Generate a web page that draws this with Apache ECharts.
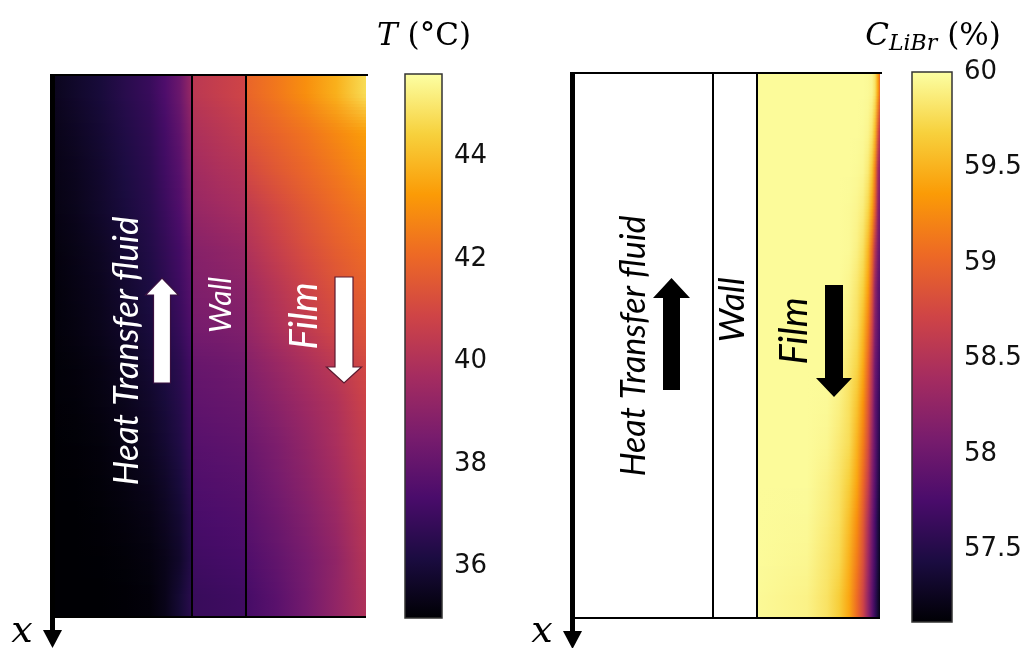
<!DOCTYPE html>
<html>
<head>
<meta charset="utf-8">
<script src="https://cdn.jsdelivr.net/npm/echarts@6/dist/echarts.min.js"></script>
<style>
  html, body { margin: 0; padding: 0; background: #ffffff; }
  #chart { width: 1026px; height: 648px; }
</style>
</head>
<body>
<div id="chart"></div>
<script>
// ---------- Temperature field (left panel) ----------
// Across-plate sample positions (mm): heat transfer fluid | wall | film
const tempCols = [0, 0.25, 0.5, 0.75, 1.0, 1.15, 1.3, 1.42, 1.42, 1.69, 1.96, 1.96, 2.26, 2.56, 2.86, 3.16];
// Region boundaries (mm)
const tempRegions = [0, 1.42, 1.96, 3.16];
// Temperature (°C), one band per row, from the top of the plate downwards
const tempRows = [
  [35.45, 35.75, 36.05, 36.5, 36.9, 37.45, 38.2, 39.4,   40.3, 40.6, 40.9,   41.9, 42.4, 42.95, 43.7, 44.7],
  [35.35, 35.6, 35.9, 36.3, 36.7, 37.2, 37.9, 39.0,      39.9, 40.2, 40.5,   41.5, 41.9, 42.3, 42.8, 43.3],
  [35.3, 35.5, 35.8, 36.2, 36.6, 37.1, 37.7, 38.7,       39.6, 39.9, 40.1,   41.0, 41.5, 41.95, 42.4, 42.9],
  [35.25, 35.45, 35.75, 36.1, 36.5, 36.95, 37.5, 38.4,   39.3, 39.55, 39.8,  40.4, 41.0, 41.55, 42.05, 42.45],
  [35.15, 35.35, 35.6, 35.95, 36.35, 36.75, 37.2, 37.9,  38.9, 39.1, 39.3,   40.0, 40.6, 41.2, 41.7, 42.1],
  [35.1, 35.3, 35.5, 35.85, 36.2, 36.6, 37.05, 37.7,     38.7, 38.85, 39.0,  39.6, 40.2, 40.8, 41.35, 41.8],
  [35.1, 35.25, 35.45, 35.75, 36.1, 36.45, 36.9, 37.5,   38.5, 38.6, 38.75,  39.3, 39.9, 40.45, 41.0, 41.45],
  [35.05, 35.15, 35.3, 35.55, 35.9, 36.2, 36.6, 37.2,    38.1, 38.2, 38.35,  38.85, 39.35, 39.85, 40.35, 41.0],
  [35.05, 35.1, 35.25, 35.45, 35.75, 36.05, 36.45, 37.0, 37.9, 38.0, 38.1,   38.55, 39.0, 39.5, 40.0, 40.8],
  [35.0, 35.05, 35.15, 35.35, 35.6, 35.9, 36.3, 36.9,    37.7, 37.8, 37.9,   38.2, 38.65, 39.2, 39.85, 40.6],
  [35.0, 35.02, 35.1, 35.25, 35.45, 35.7, 36.1, 36.7,    37.5, 37.6, 37.7,   37.95, 38.45, 39.0, 39.65, 40.45],
  [35.0, 35.0, 35.05, 35.15, 35.3, 35.55, 35.9, 36.5,    37.3, 37.4, 37.5,   37.75, 38.2, 38.75, 39.4, 40.3],
  [35.0, 35.0, 35.02, 35.08, 35.2, 35.4, 35.75, 36.4,    37.1, 37.2, 37.3,   37.5, 37.95, 38.5, 39.15, 40.15],
  [35.0, 35.0, 35.0, 35.03, 35.12, 35.4, 35.95, 36.55,   36.9, 37.0, 37.1,   37.25, 37.75, 38.4, 39.2, 40.0]
];
const tempRange = [35, 45.6];
const tempTicks = [36, 38, 40, 42, 44];
const tempTickLabels = ['36', '38', '40', '42', '44'];

// ---------- LiBr concentration field (right panel, film only) ----------
const concRegions = [0, 1.43, 1.87, 3.10];
const concCols = [1.87, 2.37, 2.57, 2.69, 2.79, 2.87, 2.93, 2.98, 3.02, 3.05, 3.08, 3.10];
// Concentration (%), one band per row, from the top of the film downwards
const concRows = [
  [59.97, 59.97, 59.97, 59.97, 59.97, 59.97, 59.97, 59.96, 59.93, 59.80, 59.40, 59.00],
  [59.97, 59.97, 59.97, 59.97, 59.97, 59.97, 59.96, 59.93, 59.82, 59.55, 58.90, 58.50],
  [59.97, 59.97, 59.97, 59.97, 59.97, 59.96, 59.94, 59.85, 59.63, 59.20, 58.45, 58.20],
  [59.97, 59.97, 59.97, 59.97, 59.96, 59.93, 59.87, 59.72, 59.42, 58.95, 58.25, 58.05],
  [59.97, 59.97, 59.97, 59.97, 59.96, 59.90, 59.79, 59.54, 59.10, 58.55, 58.10, 57.95],
  [59.97, 59.97, 59.97, 59.97, 59.93, 59.83, 59.69, 59.40, 58.90, 58.30, 57.95, 57.85],
  [59.97, 59.97, 59.97, 59.96, 59.88, 59.78, 59.55, 59.20, 58.72, 58.16, 57.90, 57.75],
  [59.97, 59.97, 59.97, 59.93, 59.83, 59.71, 59.45, 59.03, 58.53, 58.03, 57.80, 57.65],
  [59.97, 59.97, 59.96, 59.90, 59.79, 59.60, 59.31, 58.90, 58.43, 57.95, 57.70, 57.55],
  [59.97, 59.97, 59.94, 59.85, 59.76, 59.50, 59.18, 58.80, 58.27, 57.92, 57.62, 57.45],
  [59.97, 59.97, 59.90, 59.81, 59.67, 59.42, 59.04, 58.66, 58.16, 57.85, 57.55, 57.38],
  [59.97, 59.96, 59.87, 59.78, 59.57, 59.28, 58.92, 58.48, 58.05, 57.75, 57.45, 57.30],
  [59.97, 59.94, 59.83, 59.74, 59.49, 59.16, 58.83, 58.37, 57.97, 57.70, 57.42, 57.25],
  [59.96, 59.91, 59.80, 59.66, 59.43, 59.05, 58.72, 58.27, 57.90, 57.62, 57.36, 57.20]
];
const concRange = [57.12, 60];
const concTicks = [57.5, 58, 58.5, 59, 59.5, 60];
const concTickLabels = ['57.5', '58', '58.5', '59', '59.5', '60'];

// ---------- inferno colour map ----------
const inferno = ['#000004', '#1b0c41', '#4a0c6b', '#781c6d', '#a52c60',
                 '#cf4446', '#ed6925', '#fb9b06', '#f7d13d', '#fcffa4'];
const infRGB = inferno.map(h => [1, 3, 5].map(k => parseInt(h.slice(k, k + 2), 16)));
function rgbOf(v, range) {
  let t = (v - range[0]) / (range[1] - range[0]);
  t = Math.max(0, Math.min(1, t)) * (inferno.length - 1);
  const i = Math.min(Math.floor(t), inferno.length - 2);
  const f = t - i;
  return infRGB[i].map((a, k) => a + (infRGB[i + 1][k] - a) * f);
}
const css = c => 'rgb(' + c.map(Math.round).join(',') + ')';
const infernoStops = inferno.map((c, i) => ({ offset: i / (inferno.length - 1), color: c }));

// ---------- series builders ----------
// Each sampled band is shaded horizontally through its samples and
// blended vertically towards the next band (Gouraud-style shading).
function fieldSeries(idx, rows, cols, range) {
  const n = rows.length;
  const span = cols[cols.length - 1] - cols[0];
  const offsets = cols.map(c => (c - cols[0]) / span);
  const rgbRows = rows.map(r => r.map(v => rgbOf(v, range)));
  const SUB = 12;
  function strip(x0, x1, y0, y1, a, b, f) {
    const stops = offsets.map((o, j) => ({
      offset: o,
      color: css(a[j].map((c, k) => c + (b[j][k] - c) * f))
    }));
    return {
      type: 'rect',
      shape: { x: x0, y: y0, width: x1 - x0, height: y1 - y0 },
      style: { fill: new echarts.graphic.LinearGradient(0, 0, 1, 0, stops) }
    };
  }
  return {
    type: 'custom', coordinateSystem: 'cartesian2d',
    xAxisIndex: idx, yAxisIndex: idx, silent: true, clip: true, z: 1,
    data: rows.map((r, i) => [cols[0], i]),
    encode: { x: 0, y: 1 },
    renderItem(params, api) {
      const i = api.value(1);
      const x0 = Math.round(api.coord([cols[0], 0])[0]);
      const x1 = Math.round(api.coord([cols[cols.length - 1], 0])[0]);
      const yc = api.coord([cols[0], i + 0.5])[1];
      const children = [];
      const cur = rgbRows[i];
      if (i === 0) {
        const yt = Math.round(api.coord([cols[0], 0])[1]);
        children.push(strip(x0, x1, yt, Math.round(yc), cur, cur, 0));
      }
      if (i === n - 1) {
        const yb = Math.round(api.coord([cols[0], n])[1]);
        children.push(strip(x0, x1, Math.round(yc), yb, cur, cur, 0));
      } else {
        const nxt = rgbRows[i + 1];
        const ycn = api.coord([cols[0], i + 1.5])[1];
        for (let k = 0; k < SUB; k++) {
          const ya = Math.round(yc + (ycn - yc) * k / SUB);
          const yb = Math.round(yc + (ycn - yc) * (k + 1) / SUB);
          if (yb <= ya) continue;
          children.push(strip(x0, x1, ya, yb, cur, nxt, (k + 0.5) / SUB));
        }
      }
      return { type: 'group', children };
    }
  };
}

function frameSeries(idx, regions, nRows) {
  return {
    type: 'custom', coordinateSystem: 'cartesian2d',
    xAxisIndex: idx, yAxisIndex: idx, silent: true, clip: false, z: 5,
    data: [[regions[0], 0]],
    renderItem(params, api) {
      const [xl, yt] = api.coord([regions[0], 0]);
      const [xr, yb] = api.coord([regions[regions.length - 1], nRows]);
      const ln = (x1, y1, x2, y2, w) => ({
        type: 'line', shape: { x1, y1, x2, y2 },
        style: { stroke: '#000', lineWidth: w, lineCap: 'butt' }
      });
      const ch = [];
      ch.push(ln(xl, yt, xr + 2, yt, 2));
      ch.push(ln(xl, yb, xr, yb, 2));
      for (let k = 1; k < regions.length - 1; k++) {
        const x = Math.round(api.coord([regions[k], 0])[0]);
        ch.push(ln(x, yt, x, yb, 2));
      }
      const ax = xl + 2.5;
      ch.push(ln(ax, yt - 1, ax, yb + 16, 5));
      ch.push({
        type: 'polygon',
        shape: { points: [[ax - 9.5, yb + 13], [ax + 9.5, yb + 13], [ax, yb + 31]] },
        style: { fill: '#000' }
      });
      return { type: 'group', children: ch };
    }
  };
}

function colorbarSeries(idx, range) {
  return {
    type: 'custom', coordinateSystem: 'cartesian2d',
    xAxisIndex: idx, yAxisIndex: idx, silent: true, clip: false, z: 2,
    data: [[0, range[0]]],
    renderItem(params, api) {
      const [x0, yb] = api.coord([0, range[0]]);
      const [x1, yt] = api.coord([1, range[1]]);
      return {
        type: 'rect',
        shape: { x: x0, y: yt, width: x1 - x0, height: yb - yt },
        style: {
          fill: new echarts.graphic.LinearGradient(0, 1, 0, 0, infernoStops),
          stroke: '#333', lineWidth: 1.5
        }
      };
    }
  };
}

function colorbarAxis(gridIndex, range, ticks, labels) {
  return {
    type: 'value', gridIndex, position: 'right', min: range[0], max: range[1],
    splitLine: { show: false },
    axisLine: { show: false },
    axisTick: { show: true, inside: false, length: 4, customValues: ticks,
                lineStyle: { color: '#333', width: 1 } },
    axisLabel: {
      show: true, customValues: ticks, margin: 12,
      fontFamily: 'DejaVu Sans', fontSize: 26, color: '#111',
      formatter: v => {
        const k = ticks.findIndex(t => Math.abs(t - v) < 1e-6);
        return k >= 0 ? labels[k] : '';
      }
    }
  };
}

const hiddenAxis = (gridIndex, min, max, inverse) => ({
  type: 'value', gridIndex, min, max, inverse: !!inverse, show: false,
  splitLine: { show: false }
});

// ---------- annotation helpers ----------
function vText(x, y, text, color, size) {
  return {
    type: 'text', x, y, rotation: Math.PI / 2, silent: true, z: 20,
    style: {
      text, fill: color, align: 'center', verticalAlign: 'middle',
      font: 'italic ' + size + 'px Lato'
    }
  };
}
function arrow(cx, yTop, yBottom, headLen, headHalf, shaftHalf, up, fill, stroke) {
  let pts;
  if (up) {
    const hb = yTop + headLen;
    pts = [[cx, yTop], [cx + headHalf, hb], [cx + shaftHalf, hb], [cx + shaftHalf, yBottom],
           [cx - shaftHalf, yBottom], [cx - shaftHalf, hb], [cx - headHalf, hb]];
  } else {
    const hb = yBottom - headLen;
    pts = [[cx - shaftHalf, yTop], [cx + shaftHalf, yTop], [cx + shaftHalf, hb], [cx + headHalf, hb],
           [cx, yBottom], [cx - headHalf, hb], [cx - shaftHalf, hb]];
  }
  return {
    type: 'polygon', silent: true, z: 20,
    shape: { points: pts },
    style: { fill, stroke, lineWidth: stroke ? 1.2 : 0 }
  };
}

const chart = echarts.init(document.getElementById('chart'), null, { renderer: 'canvas' });
chart.setOption({
  animation: false,
  backgroundColor: '#ffffff',
  grid: [
    { left: 50, top: 75, width: 316, height: 542 },
    { left: 405, top: 74, width: 37, height: 544 },
    { left: 570, top: 73, width: 310, height: 545 },
    { left: 912, top: 72, width: 40, height: 550 }
  ],
  xAxis: [
    hiddenAxis(0, tempRegions[0], tempRegions[tempRegions.length - 1]),
    hiddenAxis(1, 0, 1),
    hiddenAxis(2, concRegions[0], concRegions[concRegions.length - 1]),
    hiddenAxis(3, 0, 1)
  ],
  yAxis: [
    hiddenAxis(0, 0, tempRows.length, true),
    colorbarAxis(1, tempRange, tempTicks, tempTickLabels),
    hiddenAxis(2, 0, concRows.length, true),
    colorbarAxis(3, concRange, concTicks, concTickLabels)
  ],
  series: [
    fieldSeries(0, tempRows, tempCols, tempRange),
    frameSeries(0, tempRegions, tempRows.length),
    colorbarSeries(1, tempRange),
    fieldSeries(2, concRows, concCols, concRange),
    frameSeries(2, concRegions, concRows.length),
    colorbarSeries(3, concRange)
  ],
  graphic: [
    // left panel labels
    vText(127, 351, 'Heat Transfer fluid', '#ffffff', 35),
    vText(221, 305, 'Wall', '#ffffff', 30),
    vText(305, 316, 'Film', '#ffffff', 38),
    arrow(162, 278, 383, 17, 16.5, 8.5, true, '#ffffff', '#3a1040'),
    arrow(344, 277, 383, 16, 17.5, 9, false, '#ffffff', '#5a1a30'),
    // right panel labels
    vText(634, 346, 'Heat Transfer fluid', '#000000', 34),
    vText(733, 310, 'Wall', '#000000', 35),
    vText(795, 331, 'Film', '#000000', 38),
    arrow(671.5, 278, 390, 20, 18.5, 8.5, true, '#000000', null),
    arrow(834, 285, 397, 19, 18, 9, false, '#000000', null),
    // flow coordinate labels
    { type: 'text', x: 22, y: 632, silent: true,
      style: { text: 'x', fill: '#000', align: 'center', verticalAlign: 'middle',
               font: 'italic 38px "DejaVu Serif"' } },
    { type: 'text', x: 542, y: 632, silent: true,
      style: { text: 'x', fill: '#000', align: 'center', verticalAlign: 'middle',
               font: 'italic 38px "DejaVu Serif"' } },
    // colour bar titles
    { type: 'text', x: 424, y: 37, silent: true,
      style: {
        text: '{i|T} {n|(°C)}', align: 'center', verticalAlign: 'middle',
        font: '31px "DejaVu Serif"',
        rich: {
          i: { font: 'italic 31px "DejaVu Serif"', fill: '#000' },
          n: { font: '31px "DejaVu Serif"', fill: '#000' }
        }
      } },
    { type: 'text', x: 933, y: 37, silent: true,
      style: {
        text: '{i|C}{s|LiBr} {n|(%)}', align: 'center', verticalAlign: 'middle',
        font: '31px "DejaVu Serif"',
        rich: {
          i: { font: 'italic 31px "DejaVu Serif"', fill: '#000' },
          s: { font: 'italic 22px "DejaVu Serif"', fill: '#000', padding: [14, 0, 0, 0] },
          n: { font: '31px "DejaVu Serif"', fill: '#000' }
        }
      } }
  ]
});
</script>
</body>
</html>
